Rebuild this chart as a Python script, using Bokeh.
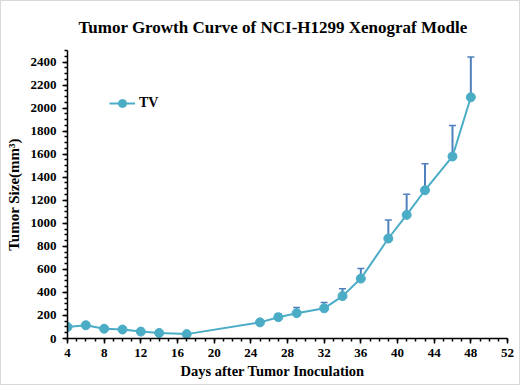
from bokeh.plotting import figure
from bokeh.models import (ColumnDataSource, Whisker, TeeHead, Legend, LegendItem,
                          Range1d, FixedTicker, Title)
from bokeh.embed import file_html
from bokeh.resources import INLINE

days = [4, 6, 8, 10, 12, 14, 17, 25, 27, 29, 32, 34, 36, 39, 41, 43, 46, 48]
tumor_volume = [100, 115, 85, 78, 60, 48, 38, 140, 185, 220, 262, 368, 520, 868, 1073, 1287, 1580, 2094]
tumor_err = [0, 0, 0, 0, 0, 0, 0, 10, 30, 50, 50, 63, 87, 160, 180, 230, 270, 350]
x_ticks = list(range(4, 53, 4))
y_ticks = list(range(0, 2401, 200))

upper = [v + e for v, e in zip(tumor_volume, tumor_err)]
src = ColumnDataSource(dict(x=days, y=tumor_volume, upper=upper))

FONT = "Liberation Serif"
LINE = "#4BACC6"
ERR = "#4F81BD"

p = figure(width=520, height=385, output_backend="svg", toolbar_location=None,
           x_range=Range1d(4, 52), y_range=Range1d(0, 2500),
           min_border_left=66, min_border_right=14, min_border_top=49, min_border_bottom=48)
p.grid.visible = False
p.outline_line_color = None
p.background_fill_color = "white"
p.border_fill_color = "white"
p.styles = {"border": "1px solid #d9d9d9"}

whisker = Whisker(source=src, base="x", upper="upper", lower="y", dimension="height",
                  line_color=ERR, line_width=2,
                  upper_head=TeeHead(size=7, line_color=ERR, line_width=1.5),
                  lower_head=None)
p.add_layout(whisker)

ln = p.line("x", "y", source=src, line_color=LINE, line_width=2)
sc = p.scatter("x", "y", source=src, size=9, fill_color=LINE, line_color=LINE)

# axes
p.xaxis.ticker = FixedTicker(ticks=x_ticks, minor_ticks=list(range(4, 53)))
p.yaxis.ticker = FixedTicker(ticks=y_ticks, minor_ticks=list(range(0, 2501, 50)))
for ax in (p.xaxis[0], p.yaxis[0]):
    ax.axis_line_color = "black"
    ax.axis_line_width = 1.5
    ax.major_tick_line_color = "black"
    ax.major_tick_line_width = 1.5
    ax.minor_tick_line_color = "black"
    ax.minor_tick_line_width = 1.5
    ax.major_tick_in = 0
    ax.major_tick_out = 5
    ax.minor_tick_in = 0
    ax.minor_tick_out = 3
    ax.major_label_text_font = FONT
    ax.major_label_text_font_style = "bold"
    ax.major_label_text_font_size = "13px"
    ax.major_label_text_color = "black"
    ax.axis_label_text_font = FONT
    ax.axis_label_text_font_style = "bold"
    ax.axis_label_text_font_size = "15px"
    ax.axis_label_text_color = "black"

p.xaxis.major_label_standoff = 5
p.yaxis.major_label_standoff = 6
p.yaxis.axis_label = "Tumor Size(mm³)"
p.yaxis.axis_label_standoff = 6

xlab = Title(text="Days after Tumor Inoculation", align="left", offset=113,
             text_font=FONT, text_font_style="bold", text_font_size="14.5px",
             text_color="black", standoff=2)
p.add_layout(xlab, "below")

title = Title(text="Tumor Growth Curve of NCI-H1299 Xenograf Modle", align="left",
              offset=11, text_font=FONT, text_font_style="bold", text_font_size="17px",
              text_color="black", standoff=27)
p.add_layout(title, "above")

legend = Legend(items=[LegendItem(label="TV", renderers=[ln, sc])],
                location=(42, 225), border_line_color=None, background_fill_alpha=0,
                padding=0, margin=0, glyph_width=26, label_standoff=4,
                label_text_font=FONT, label_text_font_style="bold",
                label_text_font_size="14px", label_text_color="black")
p.add_layout(legend)

open("out.html", "w").write(file_html(p, INLINE))
